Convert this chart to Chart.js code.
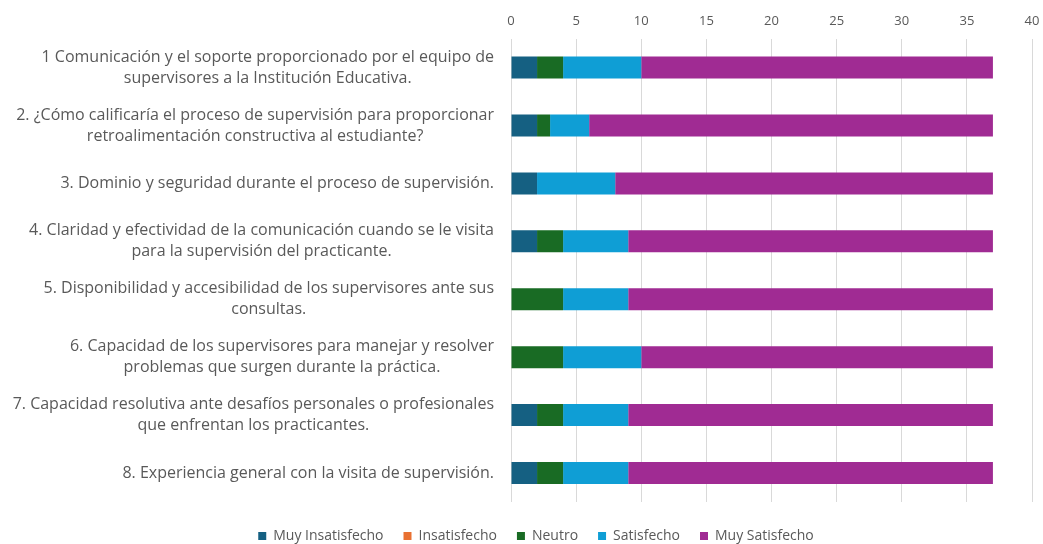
<!DOCTYPE html>
<html>
<head>
  <title>Supervisión</title>
  <script src="https://cdn.jsdelivr.net/npm/chart.js"></script>
  <style>
    html, body { margin: 0; background: #fff; overflow: hidden; font-family: "Open Sans", sans-serif; }
    #wrap { width: 1043px; height: 544px; }
  </style>
</head>
<body>
<div id="wrap"><canvas id="supChart"></canvas></div>
<script>
// preguntas (cada una en dos renglones, como en la figura)
const preguntas = [
  ['1 Comunicación y el soporte proporcionado por el equipo de', 'supervisores a la Institución Educativa.'],
  ['2. ¿Cómo calificaría el proceso de supervisión para proporcionar', 'retroalimentación constructiva al estudiante?'],
  ['3. Dominio y seguridad durante el proceso de supervisión.'],
  ['4. Claridad y efectividad de la comunicación cuando se le visita', 'para la supervisión del practicante.'],
  ['5. Disponibilidad y accesibilidad de los supervisores ante sus', 'consultas.'],
  ['6. Capacidad de los supervisores para manejar y resolver', 'problemas que surgen durante la práctica.'],
  ['7. Capacidad resolutiva ante desafíos personales o profesionales', 'que enfrentan los practicantes.'],
  ['8. Experiencia general con la visita de supervisión.']
];

const muyInsatisfecho = [2, 2, 2, 2, 0, 0, 2, 2];
const insatisfecho    = [0, 0, 0, 0, 0, 0, 0, 0];
const neutro          = [2, 1, 0, 2, 4, 4, 2, 2];
const satisfecho      = [6, 3, 6, 5, 5, 6, 5, 5];
const muySatisfecho   = [27, 31, 29, 28, 28, 27, 28, 28];

const textColor = '#595959';
const labelFont = '16px "Open Sans", sans-serif';

// labels on the left: block right-aligned, lines centred inside the block
const leftLabels = {
  id: 'leftLabels',
  beforeLayout(chart) {
    // keep the legend strip short so the plot ends where the original does
    const lg = chart.legend;
    if (lg && !lg._shortFit) {
      const fit = lg.fit;
      lg.fit = function () { fit.call(this); this.height = 42; };
      lg._shortFit = true;
    }
  },
  afterLayout(chart) {
    // legend sits a bit right of the canvas centre in the original, and lower
    if (chart.legend) {
      chart.legend.left += 40;
      chart.legend.top += 7;
    }
  },
  afterDraw(chart) {
    const c = chart.ctx;
    const yScale = chart.scales.y;
    const right = 494, lh = 21;
    c.save();
    c.font = labelFont;
    c.fillStyle = textColor;
    c.textAlign = 'center';
    c.textBaseline = 'middle';
    preguntas.forEach((lines, i) => {
      const y = yScale.getPixelForTick(i);
      const w = Math.max(...lines.map(l => c.measureText(l).width));
      const cx = right - w / 2;
      lines.forEach((l, j) => {
        c.fillText(l, cx, y + (j - (lines.length - 1) / 2) * lh);
      });
    });
    c.restore();
  }
};

new Chart(document.getElementById('supChart'), {
  type: 'bar',
  data: {
    labels: preguntas,
    datasets: [
      { label: 'Muy Insatisfecho', data: muyInsatisfecho, backgroundColor: '#156082' },
      { label: 'Insatisfecho', data: insatisfecho, backgroundColor: '#E97132' },
      { label: 'Neutro', data: neutro, backgroundColor: '#196B24' },
      { label: 'Satisfecho', data: satisfecho, backgroundColor: '#0F9ED5' },
      { label: 'Muy Satisfecho', data: muySatisfecho, backgroundColor: '#A02B93' }
    ]
  },
  options: {
    indexAxis: 'y',
    responsive: true,
    maintainAspectRatio: false,
    animation: false,
    datasets: { bar: { categoryPercentage: 1, barPercentage: 0.38 } },
    layout: { autoPadding: false, padding: { left: 0, right: 11, top: 3, bottom: 0 } },
    scales: {
      x: {
        position: 'top',
        stacked: true,
        min: 0, max: 40,
        ticks: { stepSize: 5, color: textColor, font: { family: 'Open Sans', size: 13 }, padding: 10 },
        grid: { color: '#d9d9d9', drawTicks: false },
        border: { display: false },
        afterFit(s) { s.paddingLeft = 0; s.paddingRight = 0; }
      },
      y: {
        stacked: true,
        ticks: { display: false },
        grid: { display: false },
        border: { display: false },
        afterFit(s) { s.width = 511; }
      }
    },
    plugins: {
      legend: {
        position: 'bottom',
        labels: {
          color: textColor,
          font: { family: 'Open Sans', size: 14 },
          boxWidth: 8, boxHeight: 8,
          padding: 20
        }
      },
      tooltip: { enabled: false }
    }
  },
  plugins: [leftLabels]
});
</script>
</body>
</html>
